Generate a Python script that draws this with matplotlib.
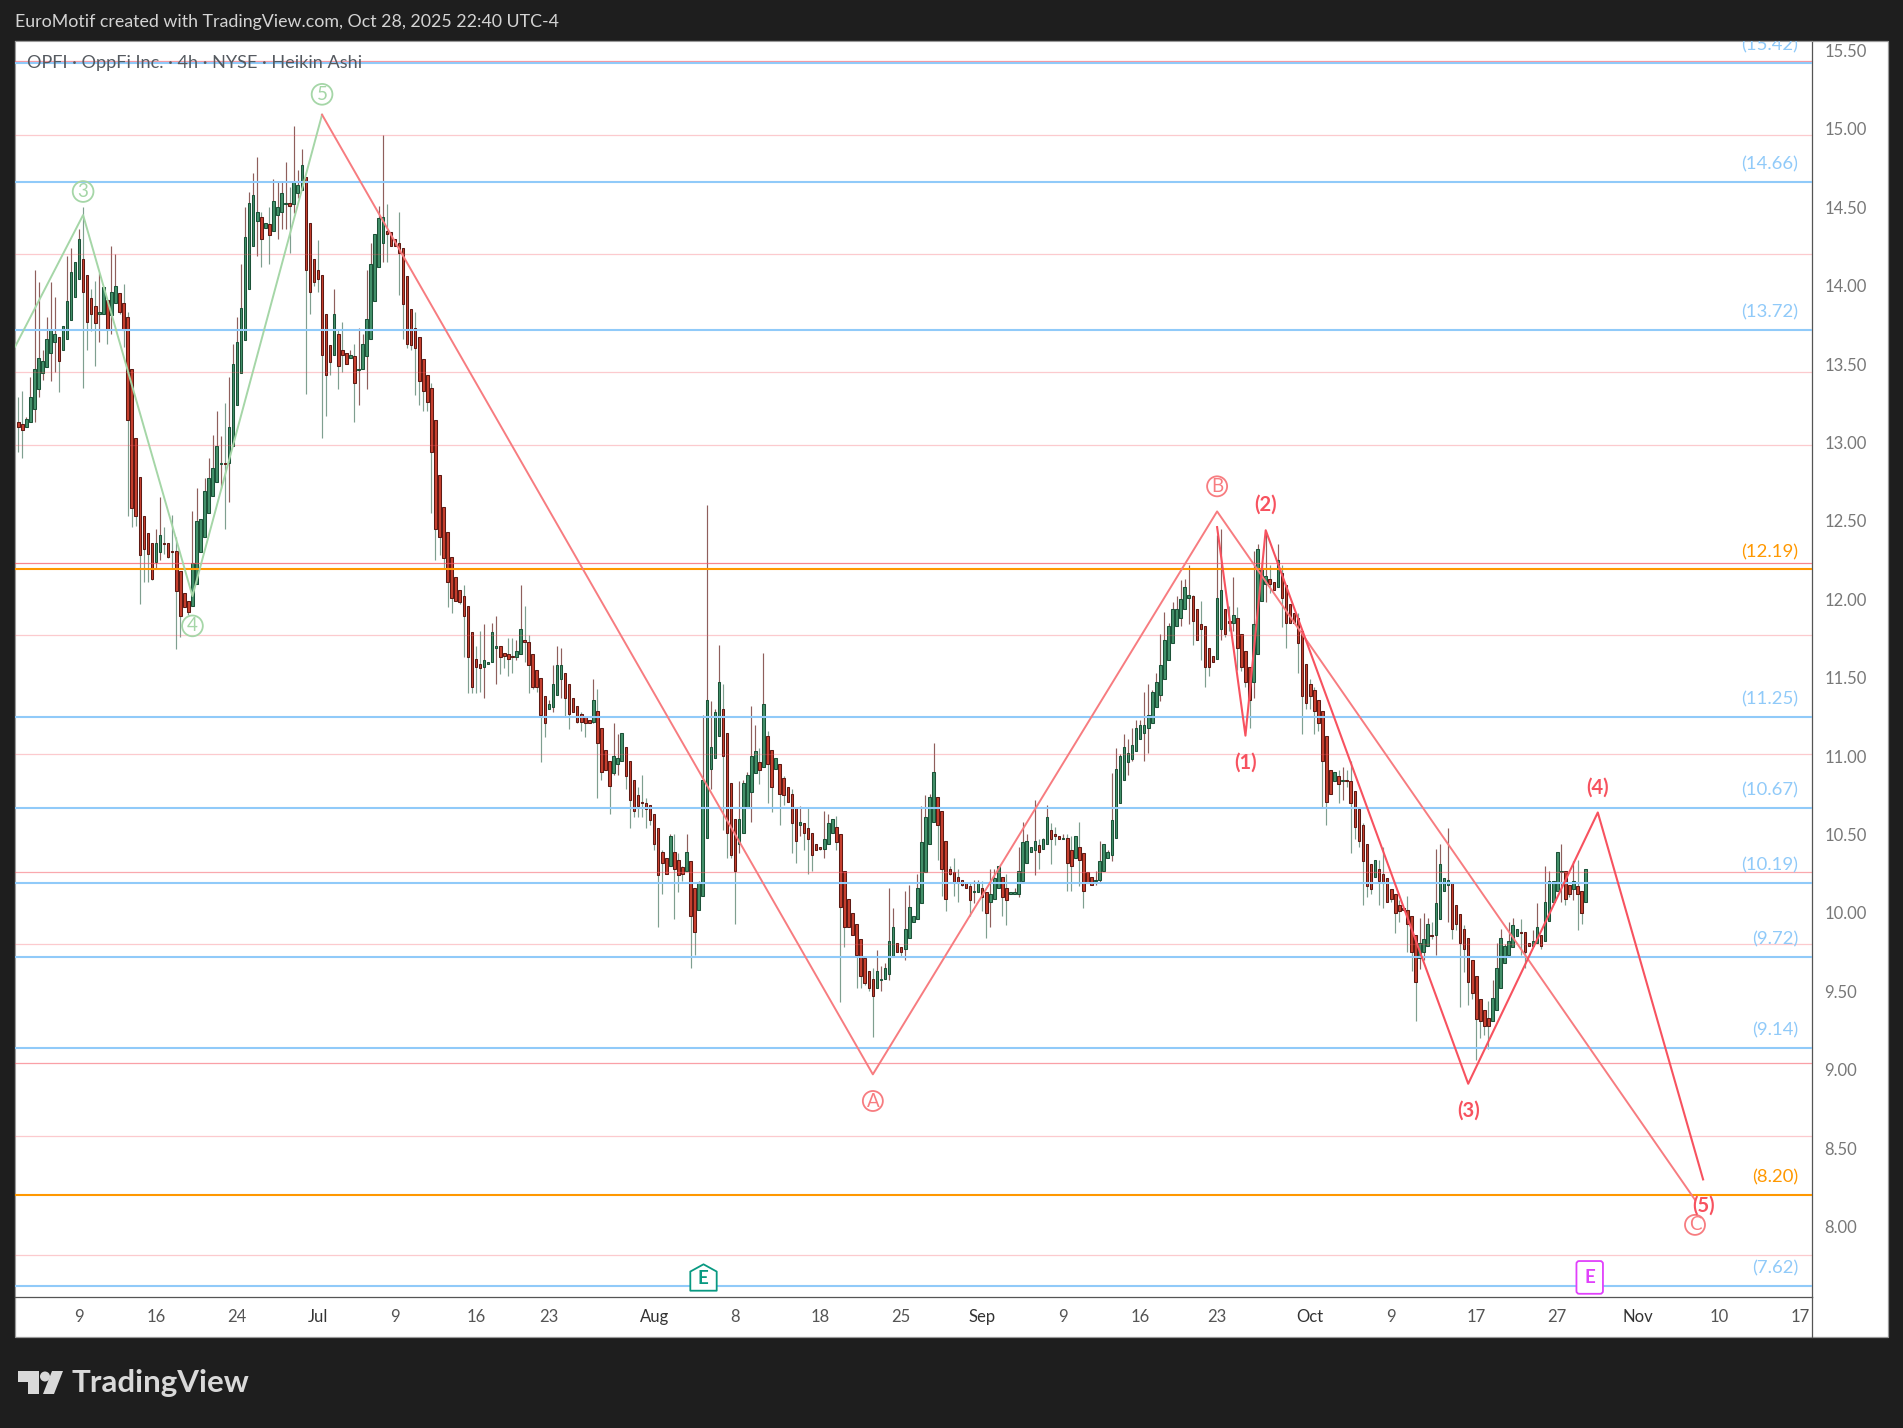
import matplotlib

matplotlib.use('Agg')
import matplotlib.pyplot as plt
from matplotlib.lines import Line2D
from matplotlib.patches import Circle, Polygon, Rectangle
from matplotlib.path import Path

plt.rcParams['font.family'] = ['Lato', 'DejaVu Sans']

# heikin ashi bars, 4h, one value per bar
opens = [
    13.13, 13.12, 13.10, 13.13, 13.21, 13.34, 13.44, 13.48, 13.57, 13.64,
    13.67, 13.59, 13.66, 13.78, 13.93, 14.04, 14.17, 14.07, 13.92, 13.87,
    13.82, 13.82, 13.91, 13.81, 13.89, 13.95, 13.89, 13.80, 13.47, 13.03,
    12.78, 12.53, 12.42, 12.36, 12.24, 12.30, 12.36, 12.36, 12.31, 12.31,
    12.18, 12.04, 11.99, 11.96, 12.10, 12.30, 12.40, 12.55, 12.66, 12.75,
    12.86, 12.87, 12.87, 12.98, 13.24, 13.44, 13.65, 13.98, 14.25, 14.41,
    14.44, 14.37, 14.39, 14.35, 14.45,
    14.47, 14.52, 14.53, 14.52, 14.59, 14.61, 14.69, 14.40, 14.17, 14.10,
    14.07, 13.82, 13.62, 13.56, 13.69, 13.59, 13.57, 13.54, 13.55, 13.46,
    13.47, 13.55, 13.66, 13.90, 14.12, 14.27, 14.35, 14.34, 14.30, 14.27,
    14.24, 14.06, 13.85, 13.73, 13.67, 13.53, 13.43, 13.35, 13.14, 12.79,
    12.59, 12.43, 12.27, 12.14, 12.06,
    12.02, 11.96, 11.79, 11.62, 11.59, 11.57, 11.59, 11.60, 11.69, 11.70,
    11.66, 11.65, 11.64, 11.63, 11.65, 11.74, 11.73, 11.65, 11.55, 11.50,
    11.38, 11.30, 11.31, 11.39, 11.49, 11.53, 11.46, 11.37, 11.32, 11.27,
    11.25, 11.23, 11.22, 11.29, 11.18, 11.04, 10.97, 10.89, 10.95, 10.97,
    11.06, 10.97, 10.85, 10.75, 10.71, 10.70, 10.69, 10.63, 10.54, 10.39,
    10.35, 10.30, 10.39, 10.34, 10.29, 10.27, 10.33, 10.16, 10.02, 10.11,
    10.48, 10.92, 10.99, 11.13, 11.30, 11.15, 10.83, 10.60, 10.44, 10.51,
    10.67, 10.77, 10.89, 10.96, 10.93, 11.13, 11.04, 10.92, 10.95, 10.86,
    10.80, 10.76, 10.67, 10.56, 10.57, 10.54,
    10.51, 10.44, 10.42, 10.41, 10.44, 10.51, 10.55, 10.50, 10.27, 10.09,
    10.00, 9.93, 9.83, 9.71, 9.63, 9.58, 9.52, 9.57, 9.58, 9.61,
    9.72, 9.81, 9.78, 9.77, 9.84, 9.94, 9.96, 10.06, 10.26, 10.44,
    10.58, 10.74, 10.65, 10.46, 10.28, 10.26, 10.23, 10.21, 10.19, 10.17,
    10.13, 10.13, 10.16, 10.13, 10.07, 10.09, 10.16, 10.23, 10.16, 10.12,
    10.12, 10.12, 10.20, 10.32, 10.39, 10.40, 10.43, 10.41, 10.44, 10.53,
    10.50, 10.49, 10.47, 10.48, 10.40, 10.35,
    10.42, 10.38, 10.26, 10.23, 10.20, 10.21, 10.27, 10.35, 10.37, 10.48,
    10.70, 10.85, 10.96, 10.98, 11.03, 11.11, 11.15, 11.18, 11.21, 11.31,
    11.39, 11.49, 11.61, 11.72, 11.83, 11.88, 11.94, 12.01, 12.02, 11.94,
    11.84, 11.83, 11.69, 11.64, 11.62, 11.81, 11.94, 11.86, 11.85, 11.88,
    11.78, 11.67, 11.57, 11.47, 11.65, 11.99, 12.10, 12.13, 12.11, 12.08,
    12.17, 12.09, 11.97, 11.91, 11.88, 11.80, 11.59, 11.46, 11.42, 11.36,
    11.29, 11.13, 10.91, 10.84, 10.87,
    10.84, 10.85, 10.84, 10.78, 10.66, 10.56, 10.44, 10.31, 10.23, 10.28,
    10.25, 10.22, 10.15, 10.12, 10.05, 10.03, 10.02, 9.98, 9.86, 9.71,
    9.75, 9.79, 9.86, 9.86, 9.96, 10.14, 10.18, 10.19, 10.05, 9.99,
    9.90, 9.84, 9.70, 9.60, 9.45, 9.38, 9.33, 9.31, 9.38, 9.52,
    9.68, 9.73, 9.78, 9.85, 9.88, 9.88, 9.81, 9.79, 9.81, 9.86,
    9.82, 9.95, 10.07, 10.14, 10.26, 10.27, 10.18, 10.15, 10.17, 10.14,
    10.07,
]
highs = [
    13.29, 13.33, 13.16, 13.42, 14.10, 14.02, 13.59, 13.80, 14.02, 13.93,
    13.67, 13.74, 14.19, 14.24, 14.15, 14.36, 14.50, 14.07, 13.98, 14.03,
    14.08, 13.99, 13.91, 14.25, 14.20, 13.95, 14.01, 13.83, 13.47, 13.03,
    12.78, 12.53, 12.42, 12.36, 12.45, 12.65, 12.46, 12.36, 12.54, 12.40,
    12.18, 12.04, 11.99, 12.56, 12.71, 12.51, 12.77, 12.90, 13.05, 13.20,
    13.04, 13.25, 13.42, 13.63, 13.80, 14.14, 14.50, 14.60, 14.72, 14.82,
    14.47, 14.40, 14.50, 14.68, 14.66,
    14.67, 14.79, 14.63, 15.02, 14.74, 14.87, 14.69, 14.40, 14.17, 14.29,
    14.07, 13.82, 13.62, 13.98, 13.72, 13.77, 13.57, 13.59, 13.63, 13.73,
    13.69, 14.10, 14.27, 14.33, 14.51, 14.96, 14.52, 14.34, 14.30, 14.47,
    14.24, 14.06, 13.85, 13.83, 13.67, 13.53, 13.43, 13.38, 13.14, 12.79,
    12.59, 12.43, 12.27, 12.14, 12.06,
    12.09, 11.96, 11.79, 11.70, 11.80, 11.84, 11.60, 11.85, 11.89, 11.70,
    11.66, 11.75, 11.75, 11.74, 12.09, 11.96, 11.77, 11.65, 11.55, 11.50,
    11.38, 11.36, 11.58, 11.70, 11.69, 11.53, 11.46, 11.37, 11.32, 11.28,
    11.25, 11.23, 11.49, 11.43, 11.18, 11.04, 10.97, 11.21, 11.14, 11.15,
    11.06, 10.97, 10.85, 10.80, 10.88, 10.73, 10.69, 10.63, 10.54, 10.40,
    10.35, 10.50, 10.50, 10.38, 10.30, 10.50, 10.33, 10.16, 10.20, 11.26,
    12.60, 11.35, 11.30, 11.71, 11.46, 11.15, 10.83, 10.60, 10.84, 10.85,
    10.90, 11.32, 11.20, 11.05, 11.66, 11.16, 11.04, 10.99, 10.95, 10.87,
    10.80, 10.79, 10.67, 10.68, 10.57, 10.67,
    10.51, 10.44, 10.42, 10.65, 10.63, 10.60, 10.62, 10.50, 10.27, 10.09,
    10.00, 9.93, 9.83, 9.71, 9.63, 9.65, 9.76, 9.66, 9.68, 10.16,
    10.03, 9.81, 9.78, 10.14, 10.18, 9.98, 10.25, 10.68, 10.75, 10.76,
    11.08, 10.74, 10.65, 10.46, 10.30, 10.35, 10.28, 10.21, 10.19, 10.19,
    10.21, 10.21, 10.20, 10.13, 10.28, 10.28, 10.30, 10.23, 10.25, 10.13,
    10.16, 10.42, 10.58, 10.50, 10.42, 10.72, 10.47, 10.48, 10.69, 10.57,
    10.55, 10.49, 10.50, 10.50, 10.49, 10.49,
    10.58, 10.38, 10.26, 10.23, 10.27, 10.46, 10.44, 10.40, 10.89, 11.05,
    11.01, 11.14, 11.11, 11.18, 11.23, 11.23, 11.41, 11.46, 11.42, 11.53,
    11.78, 11.92, 11.85, 11.98, 12.02, 12.12, 12.13, 12.22, 12.03, 11.94,
    11.99, 11.83, 11.69, 11.64, 12.41, 12.45, 11.94, 11.96, 12.14, 11.95,
    11.78, 11.67, 11.57, 12.31, 12.35, 12.24, 12.42, 12.22, 12.11, 12.35,
    12.22, 12.09, 11.97, 11.91, 11.91, 11.80, 11.59, 11.49, 11.44, 11.36,
    11.29, 11.13, 10.91, 10.90, 10.91,
    10.93, 10.91, 10.97, 10.78, 10.66, 10.57, 10.44, 10.31, 10.34, 10.34,
    10.42, 10.22, 10.15, 10.12, 10.08, 10.03, 10.11, 9.98, 9.86, 9.97,
    10.00, 9.97, 9.94, 10.41, 10.44, 10.22, 10.54, 10.19, 10.05, 9.99,
    9.92, 9.84, 9.70, 9.60, 9.45, 9.38, 9.44, 9.57, 9.81, 9.90,
    9.80, 9.94, 9.97, 9.90, 9.96, 9.88, 9.81, 9.89, 10.06, 9.86,
    10.30, 10.27, 10.20, 10.39, 10.44, 10.27, 10.18, 10.33, 10.34, 10.14,
    10.28,
]
lows = [
    12.94, 12.90, 13.10, 13.13, 13.13, 13.29, 13.40, 13.48, 13.39, 13.45,
    13.32, 13.59, 13.66, 13.78, 13.93, 14.04, 13.35, 13.59, 13.71, 13.49,
    13.64, 13.82, 13.63, 13.69, 13.89, 13.82, 13.61, 12.53, 12.46, 12.47,
    11.97, 12.11, 12.11, 12.12, 12.20, 12.25, 12.29, 12.26, 12.20, 11.68,
    11.76, 11.95, 11.90, 11.96, 12.10, 12.30, 12.40, 12.55, 12.66, 12.75,
    12.71, 12.45, 12.62, 12.98, 13.24, 13.44, 13.65, 13.98, 14.25, 14.19,
    14.12, 14.37, 14.14, 14.35, 14.30,
    14.36, 14.36, 14.21, 14.46, 14.56, 14.61, 13.31, 13.82, 14.00, 13.96,
    13.03, 13.17, 13.43, 13.56, 13.34, 13.45, 13.50, 13.54, 13.13, 13.24,
    13.47, 13.34, 13.66, 13.90, 14.12, 14.15, 14.15, 14.25, 14.25, 13.94,
    13.66, 13.60, 13.59, 13.30, 13.24, 13.20, 13.20, 12.55, 12.25, 12.28,
    12.20, 11.95, 11.91, 11.99, 11.97,
    11.63, 11.40, 11.40, 11.40, 11.41, 11.37, 11.59, 11.60, 11.46, 11.52,
    11.56, 11.51, 11.53, 11.61, 11.65, 11.60, 11.40, 11.43, 11.41, 10.96,
    11.12, 11.30, 11.28, 11.39, 11.37, 11.25, 11.17, 11.28, 11.21, 11.16,
    11.12, 11.21, 11.21, 10.73, 10.85, 10.91, 10.63, 10.88, 10.88, 10.97,
    10.79, 10.54, 10.61, 10.61, 10.61, 10.54, 10.56, 10.40, 9.91, 10.12,
    10.25, 10.30, 9.96, 10.13, 10.20, 10.27, 9.65, 9.73, 10.02, 10.11,
    10.48, 10.79, 10.99, 11.13, 10.53, 10.35, 10.35, 9.93, 10.38, 10.51,
    10.67, 10.58, 10.89, 10.82, 10.93, 10.70, 10.64, 10.92, 10.56, 10.69,
    10.71, 10.38, 10.32, 10.49, 10.40, 10.25,
    10.27, 10.40, 10.40, 10.35, 10.44, 10.51, 10.40, 9.43, 9.78, 9.91,
    9.86, 9.52, 9.52, 9.54, 9.50, 9.21, 9.52, 9.50, 9.58, 9.57,
    9.72, 9.75, 9.72, 9.70, 9.84, 9.94, 9.96, 10.06, 10.26, 10.44,
    10.58, 10.34, 10.11, 10.01, 10.24, 10.11, 10.07, 10.17, 10.16, 9.98,
    10.06, 10.13, 10.01, 9.84, 9.91, 10.09, 10.16, 9.98, 9.92, 10.12,
    10.12, 10.10, 10.20, 10.32, 10.39, 10.24, 10.28, 10.41, 10.44, 10.31,
    10.43, 10.47, 10.47, 10.14, 10.14, 10.35,
    10.17, 10.03, 10.19, 10.18, 10.18, 10.19, 10.27, 10.35, 10.33, 10.48,
    10.70, 10.85, 10.88, 10.97, 11.03, 11.11, 10.97, 11.02, 11.21, 11.31,
    11.35, 11.49, 11.61, 11.72, 11.83, 11.83, 11.94, 11.84, 11.71, 11.74,
    11.61, 11.44, 11.51, 11.60, 11.62, 11.74, 11.76, 11.80, 11.80, 11.55,
    11.54, 11.44, 11.18, 11.37, 11.65, 11.99, 11.98, 12.04, 12.06, 12.08,
    11.82, 11.69, 11.85, 11.85, 11.53, 11.14, 11.30, 11.30, 11.14, 11.16,
    10.67, 10.56, 10.76, 10.84, 10.70,
    10.72, 10.80, 10.38, 10.47, 10.42, 10.05, 10.10, 10.12, 10.23, 10.05,
    10.03, 10.07, 10.07, 9.87, 9.94, 10.02, 9.75, 9.63, 9.31, 9.64,
    9.70, 9.79, 9.83, 9.73, 9.96, 10.14, 9.94, 9.83, 9.89, 9.40,
    9.62, 9.41, 9.45, 9.06, 9.20, 9.22, 9.13, 9.31, 9.38, 9.52,
    9.68, 9.73, 9.78, 9.85, 9.73, 9.65, 9.79, 9.79, 9.81, 9.77,
    9.82, 9.95, 10.07, 10.14, 10.07, 10.05, 10.10, 10.08, 9.89, 9.93,
    10.07,
]
closes = [
    13.10, 13.08, 13.15, 13.29, 13.47, 13.54, 13.52, 13.66, 13.72, 13.69,
    13.52, 13.74, 13.90, 14.09, 14.15, 14.30, 13.96, 13.77, 13.82, 13.76,
    13.83, 13.99, 13.72, 13.96, 14.00, 13.83, 13.72, 13.14, 12.58, 12.53,
    12.28, 12.32, 12.29, 12.13, 12.36, 12.41, 12.35, 12.27, 12.30, 12.05,
    11.89, 11.95, 11.92, 12.23, 12.50, 12.51, 12.69, 12.77, 12.84, 12.98,
    12.87, 12.86, 13.10, 13.50, 13.64, 13.86, 14.31, 14.53, 14.58, 14.47,
    14.30, 14.40, 14.32, 14.54, 14.50,
    14.59, 14.53, 14.51, 14.66, 14.64, 14.77, 14.10, 13.96, 14.02, 14.04,
    13.56, 13.43, 13.51, 13.82, 13.49, 13.56, 13.50, 13.56, 13.38, 13.47,
    13.63, 13.79, 14.14, 14.33, 14.43, 14.44, 14.33, 14.25, 14.25, 14.21,
    13.88, 13.63, 13.62, 13.60, 13.39, 13.33, 13.26, 12.94, 12.45, 12.40,
    12.26, 12.11, 12.01, 11.99, 11.98,
    11.89, 11.63, 11.44, 11.57, 11.56, 11.61, 11.60, 11.79, 11.70, 11.63,
    11.64, 11.62, 11.63, 11.67, 11.81, 11.73, 11.58, 11.44, 11.44, 11.26,
    11.21, 11.33, 11.46, 11.58, 11.58, 11.37, 11.27, 11.28, 11.22, 11.22,
    11.21, 11.21, 11.36, 11.08, 10.90, 10.91, 10.81, 11.00, 10.99, 11.15,
    10.87, 10.72, 10.65, 10.68, 10.70, 10.66, 10.59, 10.44, 10.24, 10.32,
    10.25, 10.49, 10.28, 10.24, 10.25, 10.39, 9.98, 9.88, 10.19, 10.85,
    11.36, 11.06, 11.28, 11.47, 11.00, 10.51, 10.37, 10.27, 10.60, 10.83,
    10.88, 11.00, 11.03, 10.91, 11.33, 10.95, 10.80, 10.99, 10.76, 10.75,
    10.71, 10.57, 10.46, 10.58, 10.51, 10.47,
    10.37, 10.40, 10.41, 10.47, 10.57, 10.60, 10.45, 10.04, 9.91, 9.91,
    9.86, 9.73, 9.60, 9.55, 9.52, 9.47, 9.63, 9.58, 9.65, 9.82,
    9.91, 9.75, 9.75, 9.90, 10.04, 9.98, 10.16, 10.45, 10.61, 10.74,
    10.90, 10.56, 10.28, 10.09, 10.25, 10.19, 10.19, 10.18, 10.16, 10.08,
    10.14, 10.19, 10.10, 10.00, 10.12, 10.22, 10.30, 10.10, 10.08, 10.13,
    10.13, 10.27, 10.45, 10.46, 10.42, 10.46, 10.39, 10.47, 10.61, 10.47,
    10.49, 10.47, 10.48, 10.32, 10.30, 10.49,
    10.34, 10.14, 10.19, 10.18, 10.21, 10.33, 10.44, 10.39, 10.59, 10.92,
    11.00, 11.06, 11.02, 11.07, 11.18, 11.20, 11.20, 11.26, 11.41, 11.47,
    11.58, 11.74, 11.83, 11.94, 11.94, 12.00, 12.08, 12.03, 11.86, 11.74,
    11.81, 11.57, 11.57, 11.60, 12.01, 12.06, 11.78, 11.85, 11.90, 11.69,
    11.57, 11.47, 11.36, 11.84, 12.32, 12.20, 12.15, 12.10, 12.06, 12.25,
    12.01, 11.85, 11.85, 11.85, 11.72, 11.38, 11.34, 11.38, 11.29, 11.21,
    10.97, 10.71, 10.76, 10.90, 10.82,
    10.85, 10.84, 10.70, 10.55, 10.46, 10.33, 10.17, 10.15, 10.34, 10.20,
    10.19, 10.07, 10.09, 10.00, 10.01, 10.02, 9.93, 9.75, 9.56, 9.81,
    9.83, 9.93, 9.85, 10.06, 10.31, 10.22, 10.21, 9.90, 9.93, 9.81,
    9.77, 9.56, 9.49, 9.32, 9.31, 9.28, 9.28, 9.46, 9.65, 9.84,
    9.79, 9.82, 9.92, 9.90, 9.87, 9.75, 9.79, 9.82, 9.91, 9.79,
    10.07, 10.20, 10.20, 10.39, 10.27, 10.09, 10.12, 10.20, 10.12, 10.00,
    10.28,
]

price_ticks = [8.0, 8.5, 9.0, 9.5, 10.0, 10.5, 11.0, 11.5, 12.0, 12.5, 13.0, 13.5, 14.0, 14.5, 15.0, 15.5]
time_labels = ['9', '16', '24', 'Jul', '9', '16', '23', 'Aug', '8', '18', '25', 'Sep',
               '9', '16', '23', 'Oct', '9', '17', '27', 'Nov', '10', '17']
time_bars = [15, 34, 54, 74, 93, 113, 131, 157, 177, 198, 218, 238,
             258, 277, 296, 319, 339, 360, 380, 400, 420, 440]
months = ['Jul', 'Aug', 'Sep', 'Oct', 'Nov']

blue_levels = [15.42, 14.66, 13.72, 11.25, 10.67, 10.19, 9.72, 9.14, 7.62]
orange_levels = [12.19, 8.20]
pink_levels = [14.96, 14.20, 13.45, 12.985, 11.77, 11.015, 9.80, 8.575, 7.82]
red_levels = [15.43, 12.23, 10.26, 9.04]
red_alphas = [0.6, 0.7, 0.5, 0.55]

# elliott wave legs, bar index and price
wave_green_x = [-0.8, 16, 43, 75]
wave_green_y = [13.61, 14.45, 12.02, 15.09]
abc_x = [75, 211, 296, 414]
abc_y = [15.09, 8.97, 12.56, 8.17]
impulse_x = [296, 303, 308, 358, 390, 416]
impulse_y = [12.46, 11.13, 12.44, 8.91, 10.64, 8.30]

green_labels = ['3', '4', '5']
green_label_x = [16, 43, 75]
green_label_y = [14.60, 11.83, 15.22]
abc_labels = ['A', 'B', 'C']
abc_label_x = [211, 296, 414]
abc_label_y = [8.80, 12.72, 8.01]
impulse_labels = ['(1)', '(2)', '(3)', '(4)', '(5)']
impulse_label_x = [303, 308, 358, 390, 416]
impulse_label_y = [10.96, 12.60, 8.74, 10.80, 8.13]

W, H = 1903, 1428
BG = '#1e1e1e'
BAR_PX = 4.05
FIRST_BAR_PX = 18.3
PLOT_L, PLOT_R, PLOT_T, PLOT_B = 15, 1811.7, 41, 1296.7
PANEL_R, PANEL_B = 1887.7, 1337.3


def fx(px):
    return px / W


def fy(px):
    return 1 - px / H


fig = plt.figure(figsize=(W / 100, H / 100), dpi=100, facecolor=BG)
fig.add_artist(Rectangle((fx(PLOT_L), fy(PANEL_B)), fx(PANEL_R - PLOT_L), (PANEL_B - PLOT_T) / H,
                         transform=fig.transFigure, facecolor='white', edgecolor='#9a9a9a',
                         linewidth=0.9, zorder=-5))

ax = fig.add_axes([fx(PLOT_L), fy(PLOT_B), (PLOT_R - PLOT_L) / W, (PLOT_B - PLOT_T) / H])
ax.set_facecolor('white')
ax.set_xlim((PLOT_L - FIRST_BAR_PX) / BAR_PX, (PLOT_R - FIRST_BAR_PX) / BAR_PX)
ax.set_ylim(7.552, 15.56)

# wick takes the opposite colour of the body on this chart
x = list(range(len(opens)))
up = [c >= o for o, c in zip(opens, closes)]
ax.vlines(x, lows, highs, colors=['#8f5f5c' if u else '#7f9f90' for u in up], linewidth=0.85, zorder=2)
ax.bar(x, [abs(c - o) for o, c in zip(opens, closes)], bottom=[min(o, c) for o, c in zip(opens, closes)],
       width=0.62, color=['#43916a' if u else '#c8402f' for u in up],
       edgecolor=['#1c5238' if u else '#5e1a14' for u in up], linewidth=0.75, zorder=3)

for level in pink_levels:
    ax.axhline(level, color='#f7525f', alpha=0.3, linewidth=0.9, zorder=4)
for level, alpha in zip(red_levels, red_alphas):
    ax.axhline(level, color='#f7525f', alpha=alpha, linewidth=0.9, zorder=4)
for level in blue_levels:
    ax.axhline(level, color='#90caf9', linewidth=1.5, zorder=4)
    ax.annotate('(%.2f)' % level, (1, level), xycoords=('axes fraction', 'data'), xytext=(-9.5, 12.5),
                textcoords='offset points', ha='right', va='center', fontsize=13.3, color='#90caf9',
                annotation_clip=False, clip_on=True, zorder=6)
for level in orange_levels:
    ax.axhline(level, color='#ff9800', linewidth=1.5, zorder=4)
    ax.annotate('(%.2f)' % level, (1, level), xycoords=('axes fraction', 'data'), xytext=(-9.5, 12.5),
                textcoords='offset points', ha='right', va='center', fontsize=13.3, color='#ff9800', zorder=6)

ax.plot(wave_green_x, wave_green_y, color='#a5d6a7', linewidth=1.4, zorder=5)
ax.plot(abc_x, abc_y, color='#f77c80', linewidth=1.4, zorder=5)
ax.plot(impulse_x, impulse_y, color='#f7525f', linewidth=1.5, zorder=5)

for label, lx, ly in zip(green_labels, green_label_x, green_label_y):
    ax.text(lx, ly, label, ha='center', va='center', fontsize=13.5, color='#a5d6a7', zorder=6,
            bbox=dict(boxstyle='circle,pad=0.1', fc='none', ec='#a5d6a7', lw=1.3))
for label, lx, ly in zip(abc_labels, abc_label_x, abc_label_y):
    ax.text(lx, ly, label, ha='center', va='center', fontsize=13.5, color='#f77c80', zorder=6,
            bbox=dict(boxstyle='circle,pad=0.08', fc='none', ec='#f77c80', lw=1.3))
for label, lx, ly in zip(impulse_labels, impulse_label_x, impulse_label_y):
    ax.text(lx, ly, label, ha='center', va='center', fontsize=14.5, color='#f7525f',
            fontweight='bold', zorder=6)

# earnings flags
house = Path([(-1, -1), (-1, 0.45), (0, 1), (1, 0.45), (1, -1), (-1, -1)], closed=True)
ax.plot([169], [7.68], marker=house, markersize=19, markerfacecolor='white', markeredgecolor='#089981',
        markeredgewidth=1.3, linestyle='none', zorder=7, clip_on=False)
ax.text(169, 7.67, 'E', ha='center', va='center', fontsize=13.5, fontweight='bold', color='#089981', zorder=8)
ax.text(388, 7.675, 'E', ha='center', va='center', fontsize=13.5, fontweight='bold', color='#e040fb', zorder=8,
        bbox=dict(boxstyle='round,pad=0.42,rounding_size=0.15', fc='white', ec='#e040fb', lw=1.3))

ax.text(12 / (PLOT_R - PLOT_L), 1 - 22 / (PLOT_B - PLOT_T), 'OPFI · OppFi Inc. · 4h · NYSE · Heikin Ashi',
        transform=ax.transAxes, ha='left', va='center', fontsize=13.1, color='#555a60', zorder=9)

ax.yaxis.tick_right()
ax.set_yticks(price_ticks)
ax.set_yticklabels(['%.2f' % p for p in price_ticks], fontsize=12, color='#787878')
ax.set_xticks(time_bars)
ax.set_xticklabels(time_labels, fontsize=12, color='#555555')
for tick in ax.get_xticklabels():
    if tick.get_text() in months:
        tick.set_color('#333333')
ax.tick_params(axis='x', length=0, pad=9)
ax.tick_params(axis='y', length=0, pad=9)
for side in ['top', 'left']:
    ax.spines[side].set_color('#9a9a9a')
for side in ['right', 'bottom']:
    ax.spines[side].set_color('#555555')
    ax.spines[side].set_linewidth(0.9)
fig.add_artist(Line2D([fx(PLOT_R), fx(PLOT_R)], [fy(PLOT_B), fy(PANEL_B)], color='#555555', linewidth=0.9))

fig.text(fx(15), fy(22), 'EuroMotif created with TradingView.com, Oct 28, 2025 22:40 UTC-4',
         ha='left', va='center', fontsize=12.8, color='#d4d4d4')

# logo
logo = '#d9d9d9'
fig.add_artist(Polygon([(fx(18), fy(1371)), (fx(39), fy(1371)), (fx(39), fy(1394)), (fx(28), fy(1394)),
                        (fx(28), fy(1382)), (fx(18), fy(1382))], transform=fig.transFigure,
                       facecolor=logo, edgecolor='none'))
fig.add_artist(Circle((45, H - 1376.5), 5, transform=None, facecolor=logo, edgecolor='none'))
fig.add_artist(Polygon([(fx(52), fy(1371)), (fx(63), fy(1371)), (fx(54), fy(1394)), (fx(43), fy(1394))],
                       transform=fig.transFigure, facecolor=logo, edgecolor='none'))
fig.text(fx(72), fy(1383), 'TradingView', ha='left', va='center', fontsize=22.5, fontweight='bold', color=logo)

fig.savefig('out.png', dpi=100, facecolor=fig.get_facecolor())
